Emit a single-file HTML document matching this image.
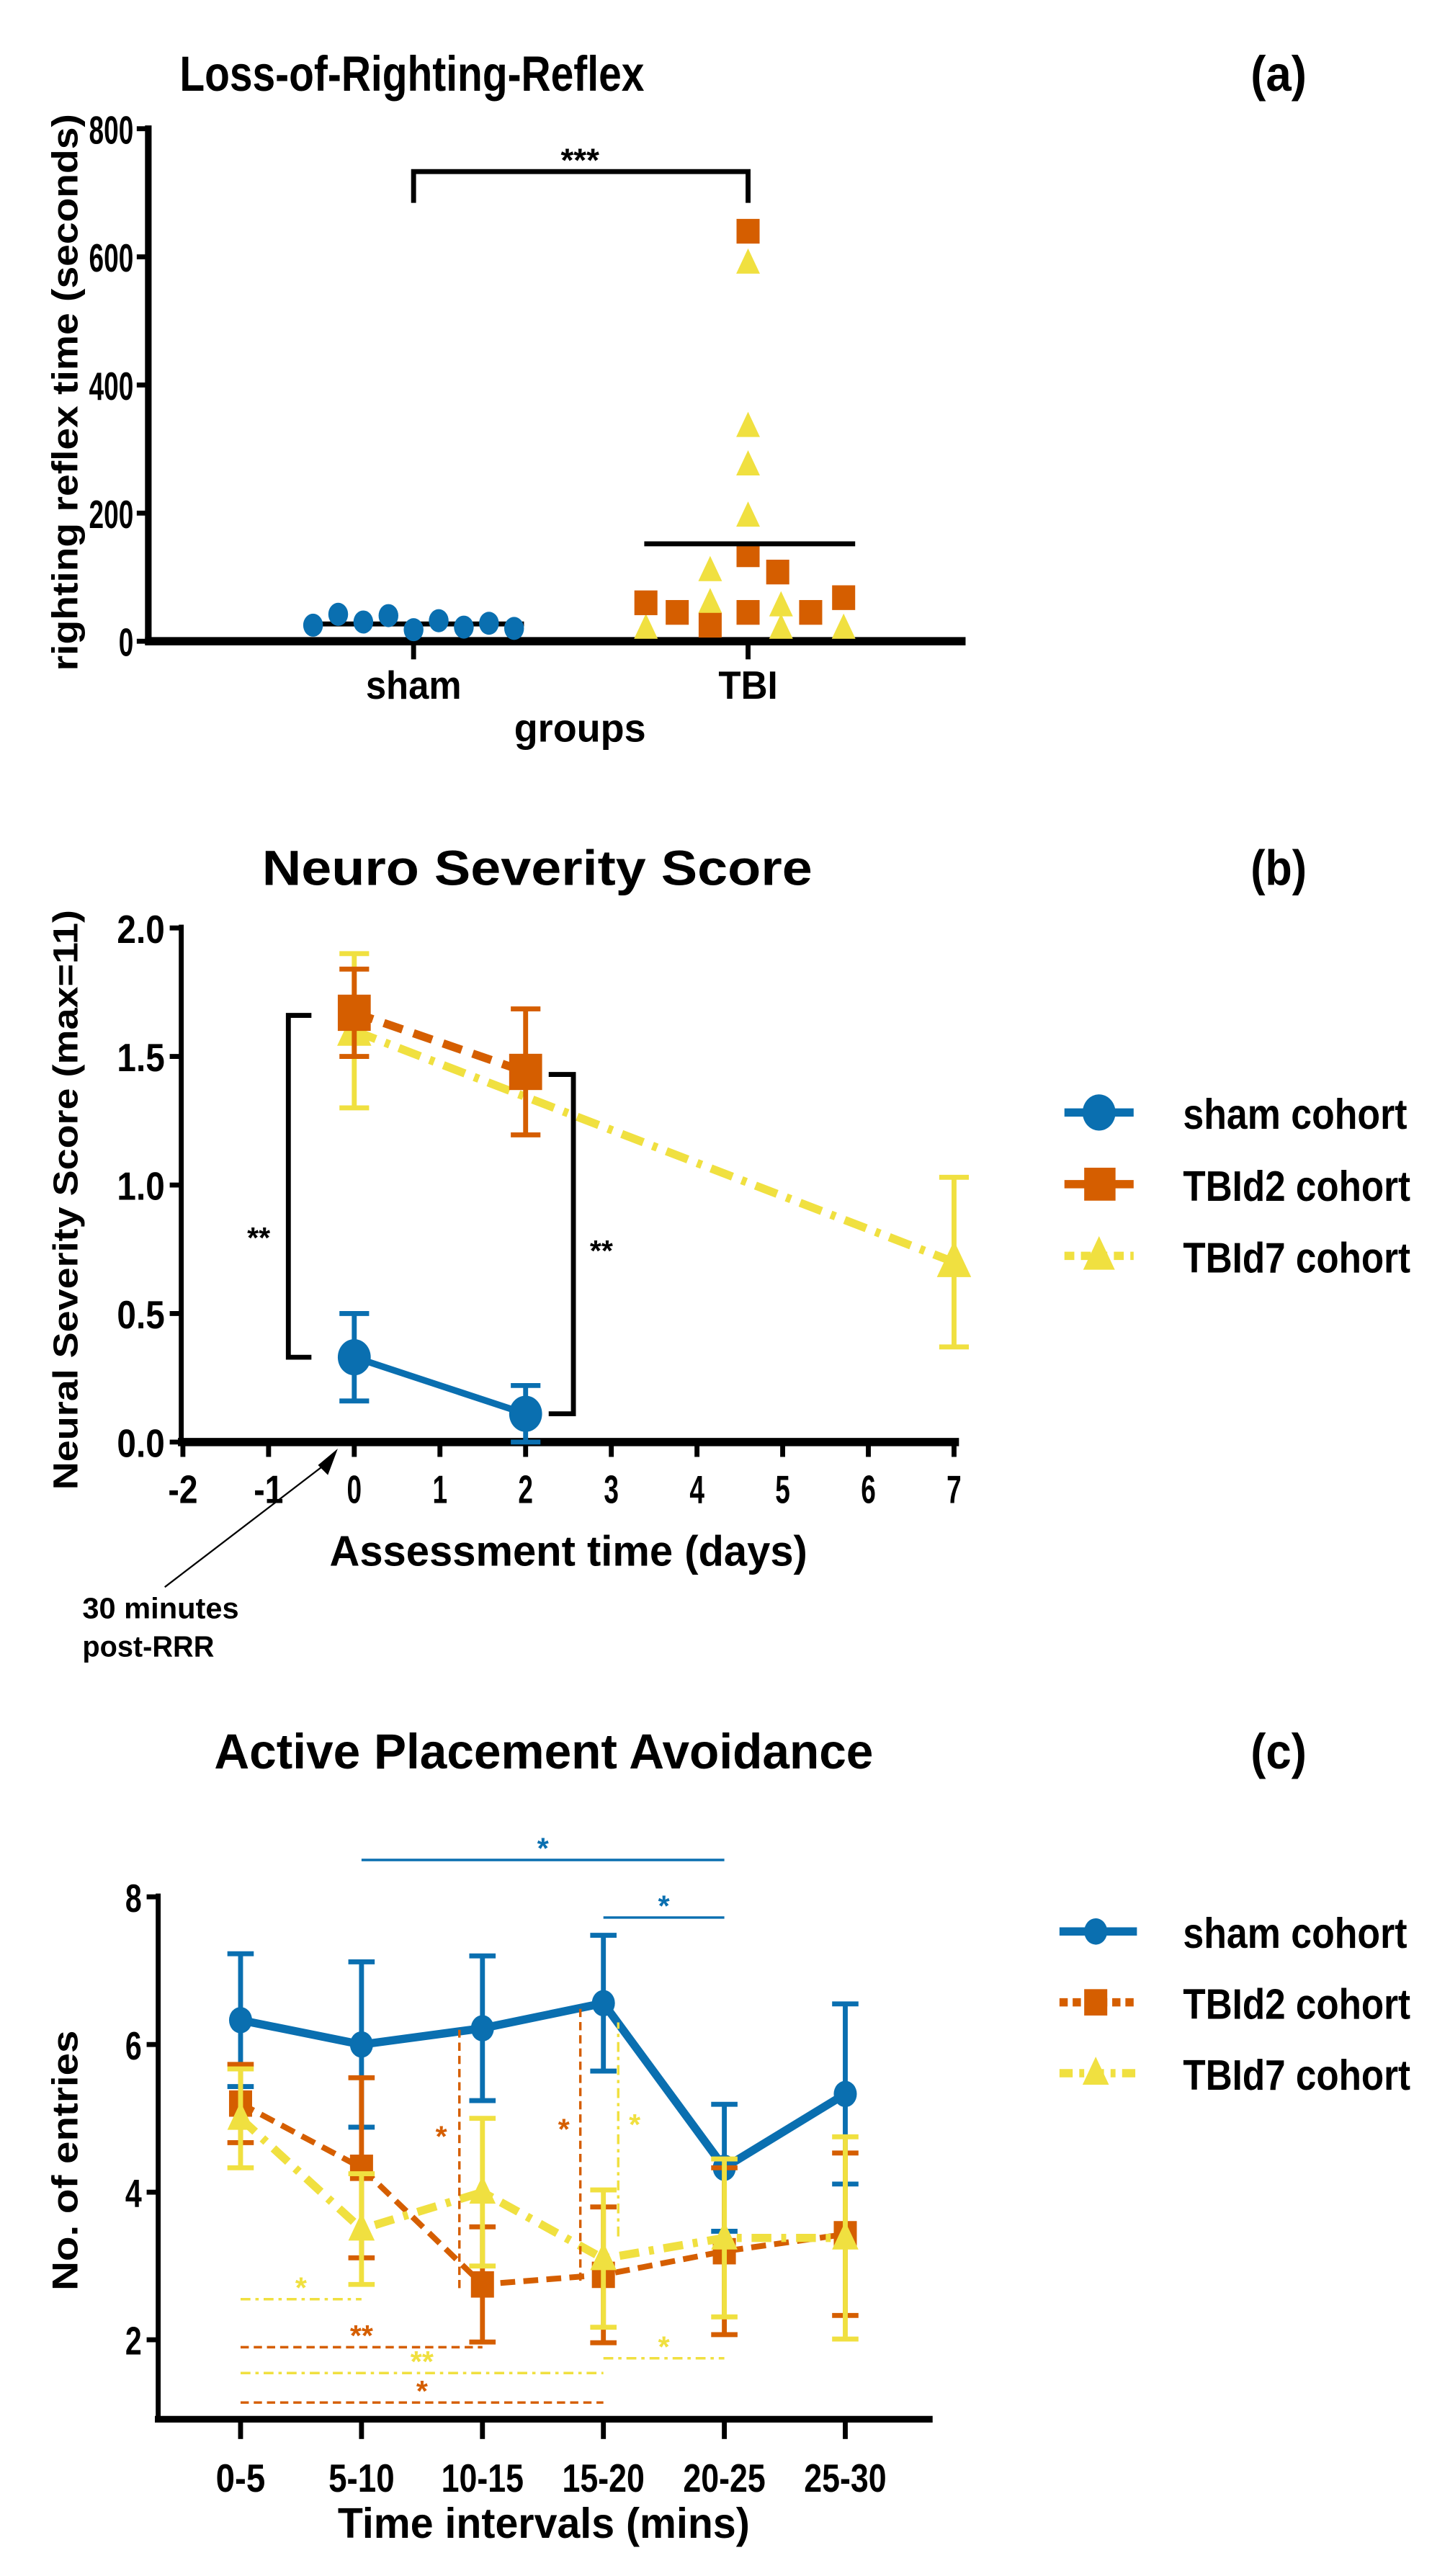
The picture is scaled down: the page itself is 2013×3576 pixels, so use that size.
<!DOCTYPE html>
<html><head><meta charset="utf-8"><style>
html,body{margin:0;padding:0;background:#fff}
svg{display:block}
text{font-family:"Liberation Sans",sans-serif;font-weight:bold;fill:#000}
</style></head><body>
<svg id="fig" width="2013" height="3576" viewBox="0 0 880 1563" xmlns="http://www.w3.org/2000/svg">
<g id="pa"></g>
<g id="pb"></g>
<g id="pc"></g>
</svg>
<script>
// ---- Panel (a) data
const aShamVals=[25,42,30,40,18,32,22,28,20];
const aShamMean=27;
const aSqVals=[640,135,108,60,45,25,45,45,68];
const aSqPos=[0,0,0.18,-0.62,-0.43,-0.23,0,0.38,0.58];
const aTriVals=[590,335,275,195,110,60,55,20,20,20];
const aTriPos=[0,0,0,0,-0.23,-0.23,0.2,-0.62,0.2,0.58];
const aTBIMean=152;
const aTicks=[0,200,400,600,800];
const aCats=["sham","TBI"];
// ---- Panel (b) data
const bTicksY=[0,0.5,1.0,1.5,2.0];
const bTicksX=[-2,-1,0,1,2,3,4,5,6,7];
const bShamX=[0,2],bShamY=[0.33,0.11],bShamErr=[0.17,0.11];
const bD2X=[0,2],bD2Y=[1.67,1.44],bD2Err=[0.17,0.245];
const bD7X=[0,7],bD7Y=[1.6,0.7],bD7Err=[0.3,0.33];
// ---- Panel (c) data
const cCats=["0-5","5-10","10-15","15-20","20-25","25-30"];
const cTicksY=[2,4,6,8];
const cSham=[6.33,6.0,6.22,6.56,4.33,5.33];
const cShamErr=[0.9,1.12,0.98,0.92,0.86,1.22];
const cD2=[5.2,4.33,2.75,2.88,3.2,3.43];
const cD2Err=[0.53,1.22,0.78,0.92,1.13,1.1];
const cD7=[5.0,3.5,4.0,3.1,3.38,3.38];
const cD7Err=[0.67,0.75,1.0,0.93,1.07,1.37];

const NS="http://www.w3.org/2000/svg";
const BLUE="#0a6fb0",ORANGE="#d55e00",YELLOW="#f0e040";
function el(p,tag,at,txt){const e=document.createElementNS(NS,tag);for(const k in at)e.setAttribute(k,at[k]);if(txt!==undefined)e.textContent=txt;p.appendChild(e);return e;}
function tx(p,x,y,size,anchor,s,len,extra){const at={x:x,y:y,"font-size":size,"text-anchor":anchor};
 if(len){at.textLength=len;at.lengthAdjust="spacingAndGlyphs";}
 if(extra)for(const k in extra)at[k]=extra[k];
 return el(p,"text",at,s);}
function tri(p,x,y,s,c){return el(p,"polygon",{points:`${x},${y-s} ${x-s*0.8},${y+s*0.7} ${x+s*0.8},${y+s*0.7}`,fill:c});}

// ===== Panel A =====
(function(){
const g=document.getElementById("pa");
const y=v=>389-v*311/800, xc=i=>[251,454][i], dx=100;
let t=tx(g,250,55,30,"middle","Loss-of-Righting-Reflex",282);


t=tx(g,776,55,30,"middle","(a)",34);


el(g,"line",{x1:90,y1:76,x2:90,y2:391,stroke:"#000","stroke-width":4});
el(g,"line",{x1:88,y1:389,x2:586,y2:389,stroke:"#000","stroke-width":5});
aTicks.forEach(v=>{el(g,"line",{x1:83,y1:y(v),x2:90,y2:y(v),stroke:"#000","stroke-width":3});
 const s=String(v);
 const tt=tx(g,81,y(v)+9,24,"end",s,s.length*9);
 
 });
aCats.forEach((c,i)=>{el(g,"line",{x1:xc(i),y1:389,x2:xc(i),y2:400,stroke:"#000","stroke-width":3});
 const tt=tx(g,xc(i),424,24,"middle",c,i?36:58);
 
 });
t=tx(g,352,450,24,"middle","groups",80);


t=tx(g,0,0,22,"middle","righting reflex time (seconds)",338,{transform:"translate(47,238) rotate(-90)"});


el(g,"polyline",{points:`251,123 251,104 454,104 454,123`,fill:"none",stroke:"#000","stroke-width":3});
t=tx(g,352,104,20,"middle","***");


const n=aShamVals.length;
el(g,"line",{x1:185,y1:y(aShamMean),x2:318,y2:y(aShamMean),stroke:"#000","stroke-width":3});
aShamVals.forEach((v,i)=>{const c=el(g,"ellipse",{cx:190+i*122/(n-1),cy:y(v),rx:6,ry:7,fill:BLUE});
 
 });
aTriVals.forEach((v,i)=>{const p=tri(g,xc(1)+aTriPos[i]*dx,y(v),9,YELLOW);
 
 });
aSqVals.forEach((v,i)=>{const xx=xc(1)+aSqPos[i]*dx;const r=el(g,"rect",{x:xx-7,y:y(v)-7.5,width:14,height:15,fill:ORANGE});
 
 });
el(g,"line",{x1:391,y1:y(aTBIMean),x2:519,y2:y(aTBIMean),stroke:"#000","stroke-width":3});
})();

// ===== Panel B =====
(function(){
const g=document.getElementById("pb");
const x=v=>215+v*52, y=v=>875-v*156;
let t=tx(g,326,537,30,"middle","Neuro Severity Score",334);


t=tx(g,776,537,30,"middle","(b)",34);


el(g,"line",{x1:110,y1:561,x2:110,y2:877,stroke:"#000","stroke-width":3});
el(g,"line",{x1:108,y1:875,x2:582,y2:875,stroke:"#000","stroke-width":5});
bTicksY.forEach(v=>{el(g,"line",{x1:103,y1:y(v),x2:110,y2:y(v),stroke:"#000","stroke-width":3});
 const tt=tx(g,100,y(v)+9,24,"end",v.toFixed(1),29);
 
 });
bTicksX.forEach(v=>{el(g,"line",{x1:x(v),y1:875,x2:x(v),y2:884,stroke:"#000","stroke-width":3});
 const s=String(v);
 const tt=tx(g,x(v),912,24,"middle",s,s.length*9);
 
 });
t=tx(g,345,950,26,"middle","Assessment time (days)",290);


t=tx(g,0,0,21,"middle","Neural Severity Score (max=11)",352,{transform:"translate(47,728) rotate(-90)"});


t=tx(g,50,982,18,"start","30 minutes",95);


t=tx(g,50,1005,18,"start","post-RRR",80);


el(g,"line",{x1:100,y1:963,x2:198,y2:888,stroke:"#000","stroke-width":1});
el(g,"polygon",{points:"205,879 193,889 199,895",fill:"#000"});
function series(X,Y,E,c,dash,w,name,mk){
 const pl=el(g,"polyline",{points:X.map((v,i)=>x(v)+","+y(Y[i])).join(" "),fill:"none",stroke:c,"stroke-width":w,"stroke-dasharray":dash});
 
 
 X.forEach((v,i)=>{const xx=x(v),lo=y(Y[i]-E[i]),hi=y(Y[i]+E[i]);
  el(g,"path",{d:`M${xx},${lo}V${hi}M${xx-9},${lo}H${xx+9}M${xx-9},${hi}H${xx+9}`,stroke:c,"stroke-width":3,fill:"none"});
  let m;
  if(mk==="c")m=el(g,"ellipse",{cx:xx,cy:y(Y[i]),rx:10,ry:11,fill:c});
  else if(mk==="s")m=el(g,"rect",{x:xx-10,y:y(Y[i])-11,width:20,height:22,fill:c});
  else m=tri(g,xx,y(Y[i]),13,c);
  
  });
}
series(bD7X,bD7Y,bD7Err,YELLOW,"14 6 3 6",5,"tbid7","t");
series(bD2X,bD2Y,bD2Err,ORANGE,"12 7",5,"tbid2","s");
series(bShamX,bShamY,bShamErr,BLUE,"",4,"sham","c");
el(g,"polyline",{points:`189,${y(1.66)} 175,${y(1.66)} 175,${y(0.33)} 189,${y(0.33)}`,fill:"none",stroke:"#000","stroke-width":3});
el(g,"polyline",{points:`333,${y(1.43)} 348,${y(1.43)} 348,${y(0.11)} 333,${y(0.11)}`,fill:"none",stroke:"#000","stroke-width":3});
t=tx(g,157,757,18,"middle","**");


t=tx(g,365,765,18,"middle","**");


const leg=[["sham cohort",BLUE,"","c",136],["TBId2 cohort",ORANGE,"","s",138],["TBId7 cohort",YELLOW,"6 4","t",138]];
leg.forEach((l,i)=>{const ly=675+i*43.5;const lg=el(g,"g",{});
 
 
 el(lg,"line",{x1:646,y1:ly,x2:688,y2:ly,stroke:l[1],"stroke-width":5,"stroke-dasharray":l[2]});
 if(l[3]==="c")el(lg,"ellipse",{cx:667,cy:ly,rx:10,ry:11,fill:l[1]});else if(l[3]==="s")el(lg,"rect",{x:658,y:ly-10,width:19,height:20,fill:l[1]});else tri(lg,667,ly,12,l[1]);
 tx(lg,718,ly+10,26,"start",l[0],l[4]);});
})();

// ===== Panel C =====
(function(){
const g=document.getElementById("pc");
const x=i=>146+i*73.4;
const Y=v=>1151+(8-v)*44.8;
let t=tx(g,330,1073,30,"middle","Active Placement Avoidance",400);


t=tx(g,776,1073,30,"middle","(c)",34);


el(g,"line",{x1:96,y1:1149,x2:96,y2:1470,stroke:"#000","stroke-width":3});
el(g,"line",{x1:94,y1:1468,x2:566,y2:1468,stroke:"#000","stroke-width":4});
cTicksY.forEach(v=>{el(g,"line",{x1:89,y1:Y(v),x2:96,y2:Y(v),stroke:"#000","stroke-width":3});
 const tt=tx(g,86,Y(v)+9,24,"end",String(v),10);
 
 });
cCats.forEach((c,i)=>{el(g,"line",{x1:x(i),y1:1468,x2:x(i),y2:1480,stroke:"#000","stroke-width":3});
 const tt=tx(g,x(i),1512,24,"middle",c,c.length*10);
 
 });
t=tx(g,330,1540,26,"middle","Time intervals (mins)",250);


t=tx(g,0,0,22,"middle","No. of entries",158,{transform:"translate(47,1311) rotate(-90)"});


function series(V,E,c,dash,w,name,mk){
 const pl=el(g,"polyline",{points:V.map((v,i)=>x(i)+","+Y(v)).join(" "),fill:"none",stroke:c,"stroke-width":w,"stroke-dasharray":dash});
 
 
 V.forEach((v,i)=>{const xx=x(i),lo=Y(v-E[i]),hi=Y(v+E[i]);
  el(g,"path",{d:`M${xx},${lo}V${hi}M${xx-8},${lo}H${xx+8}M${xx-8},${hi}H${xx+8}`,stroke:c,"stroke-width":3,fill:"none"});
  let m;
  if(mk==="c")m=el(g,"ellipse",{cx:xx,cy:Y(v),rx:7,ry:8,fill:c});
  else if(mk==="s")m=el(g,"rect",{x:xx-7,y:Y(v)-8,width:14,height:16,fill:c});
  else m=tri(g,xx,Y(v),10,c);
  
  });
}
series(cSham,cShamErr,BLUE,"",5,"sham","c");
series(cD2,cD2Err,ORANGE,"9 5",3.5,"tbid2","s");
series(cD7,cD7Err,YELLOW,"12 6 3 6",5,"tbid7","t");
function hl(i1,i2,v,c,dash,lab){
 el(g,"line",{x1:x(i1),y1:Y(v),x2:x(i2),y2:Y(v),stroke:c,"stroke-width":1.5,"stroke-dasharray":dash});
 const tt=tx(g,(x(i1)+x(i2))/2,Y(v)-1,18,"middle",lab,undefined,{style:"fill:"+c});
 
 }
hl(1,4,8.5,BLUE,"","*");
hl(3,4,7.72,BLUE,"","*");
hl(0,1,2.55,YELLOW,"6 3 2 3","*");
hl(0,2,1.9,ORANGE,"5 3","**");
hl(0,3,1.55,YELLOW,"6 3 2 3","**");
hl(0,3,1.15,ORANGE,"5 3","*");
hl(3,4,1.75,YELLOW,"6 3 2 3","*");
function vl(xp,v1,v2,c,dash,sx,sv){
 el(g,"line",{x1:xp,y1:Y(v1),x2:xp,y2:Y(v2),stroke:c,"stroke-width":1.5,"stroke-dasharray":dash});
 const tt=tx(g,sx,Y(sv),18,"middle","*",undefined,{style:"fill:"+c});
 
 }
vl(x(2)-14,2.7,6.2,ORANGE,"5 3",x(2)-25,4.62);
vl(x(3)-14,2.8,6.55,ORANGE,"5 3",x(3)-24,4.72);
vl(x(3)+9,3.4,6.3,YELLOW,"6 3 2 3",x(3)+19,4.78);
const leg=[["sham cohort",BLUE,"","c",136],["TBId2 cohort",ORANGE,"5 3","s",138],["TBId7 cohort",YELLOW,"8 4 3 4","t",138]];
leg.forEach((l,i)=>{const ly=1172+i*43;const lg=el(g,"g",{});
 
 
 el(lg,"line",{x1:643,y1:ly,x2:690,y2:ly,stroke:l[1],"stroke-width":5,"stroke-dasharray":l[2]});
 if(l[3]==="c")el(lg,"ellipse",{cx:665,cy:ly,rx:7,ry:8,fill:l[1]});else if(l[3]==="s")el(lg,"rect",{x:658,y:ly-8,width:14,height:16,fill:l[1]});else tri(lg,665,ly,10,l[1]);
 tx(lg,718,ly+10,26,"start",l[0],l[4]);});
})();
</script>
</body></html>
